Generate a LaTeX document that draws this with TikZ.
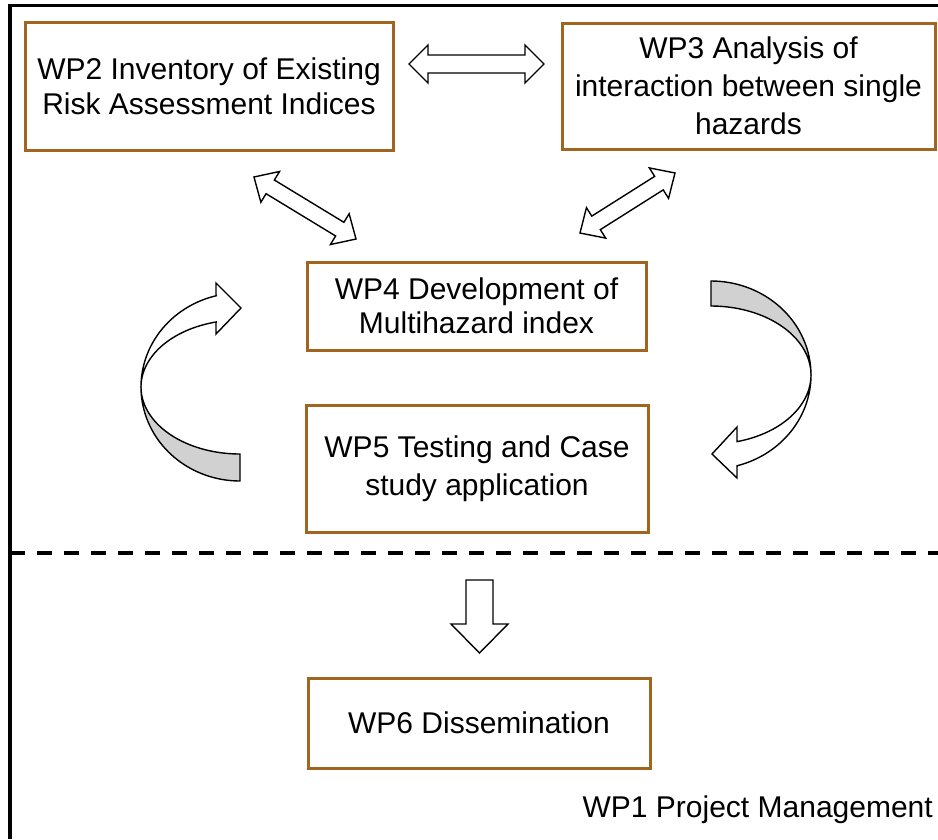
\documentclass[tikz,border=0pt]{standalone}
\usepackage{fontspec}
\setmainfont{Liberation Sans}
\definecolor{wpbrown}{RGB}{160,102,32}
\newcommand{\dblarrow}[6]{% cx, cy, angle, half length, shaft half, head half
  \begin{scope}[shift={(#1,#2)}, rotate=#3]
    \draw[arrowshape] (-#4,0) -- (-#4+19,-#6) -- (-#4+19,-#5) -- (#4-19,-#5) -- (#4-19,-#6) -- (#4,0)
      -- (#4-19,#6) -- (#4-19,#5) -- (-#4+19,#5) -- (-#4+19,#6) -- cycle;
  \end{scope}}
\tikzset{
  wpbox/.style={draw=wpbrown, line width=3pt, fill=white, inner sep=0pt, align=center},
  arrowshape/.style={draw=black, line width=1.4pt, fill=white, line join=miter},
  backshape/.style={draw=black, line width=1.4pt, fill=black!18, line join=miter},
  frameline/.style={draw=black, line width=3.6pt},
}
\begin{document}
\begin{tikzpicture}[x=1pt,y=-1pt]
\useasboundingbox (0,0) rectangle (938,839);
% frame
\draw[frameline, line join=miter] (10,839) -- (10,5.5) -- (938,5.5);
\draw[frameline, dash pattern=on 15pt off 12pt] (10,553) -- (938,553);
% boxes
\node[wpbox, minimum width=368pt, minimum height=128pt, font=\fontsize{30}{35}\selectfont] (wp2) at (209,86)
  {WP2 Inventory of Existing\\Risk Assessment Indices};
\node[wpbox, minimum width=373pt, minimum height=126pt, font=\fontsize{30}{38}\selectfont] (wp3) at (748.5,86)
  {WP3 Analysis of\\interaction between single\\hazards};
\node[wpbox, minimum width=339pt, minimum height=88pt, font=\fontsize{30}{34}\selectfont] (wp4) at (476.5,306)
  {WP4 Development of\\Multihazard index};
\node[wpbox, minimum width=342pt, minimum height=127pt, font=\fontsize{30}{38}\selectfont] (wp5) at (477,468.5)
  {WP5 Testing and Case\\study application};
\node[wpbox, minimum width=342pt, minimum height=90pt, font=\fontsize{30}{34}\selectfont] (wp6) at (479,723)
  {WP6 Dissemination};
\node[anchor=base east, inner sep=0pt, font=\fontsize{30}{34}\selectfont] (wp1) at (933,817)
  {WP1 Project Management};
% straight double arrows
\dblarrow{476.5}{64}{0}{67.5}{9}{19}
\dblarrow{305}{208}{-31.3}{59.7}{8}{18}
\dblarrow{627.5}{203}{32.3}{56.2}{8}{18}
% down arrow
\draw[arrowshape] (466,580) -- (493,580) -- (493,624) -- (508,624) -- (479.5,653) -- (451,624) -- (466,624) -- cycle;
% left curved arrow
\draw[backshape] plot[domain=90:180, samples=40] ({240+99*cos(\x)},{387+94*sin(\x)})
  -- plot[domain=180:90, samples=40] ({240+99*cos(\x)},{387+67*sin(\x)}) -- cycle;
\draw[arrowshape] plot[domain=180:256, samples=40] ({240+99*cos(\x)},{387+94*sin(\x)})
  -- (216,283) -- (241,308) -- (216,334)
  -- plot[domain=256:180, samples=40] ({240+99*cos(\x)},{387+67*sin(\x)}) -- cycle;
% right curved arrow
\draw[backshape] plot[domain=-90:0, samples=40] ({711+100*cos(\x)},{375+94*sin(\x)})
  -- plot[domain=0:-90, samples=40] ({711+100*cos(\x)},{375+69*sin(\x)}) -- cycle;
\draw[arrowshape] plot[domain=0:74.9, samples=40] ({711+100*cos(\x)},{375+94*sin(\x)})
  -- (737,478) -- (712,454) -- (737,427)
  -- plot[domain=74.9:0, samples=40] ({711+100*cos(\x)},{375+69*sin(\x)}) -- cycle;
\end{tikzpicture}
\end{document}
